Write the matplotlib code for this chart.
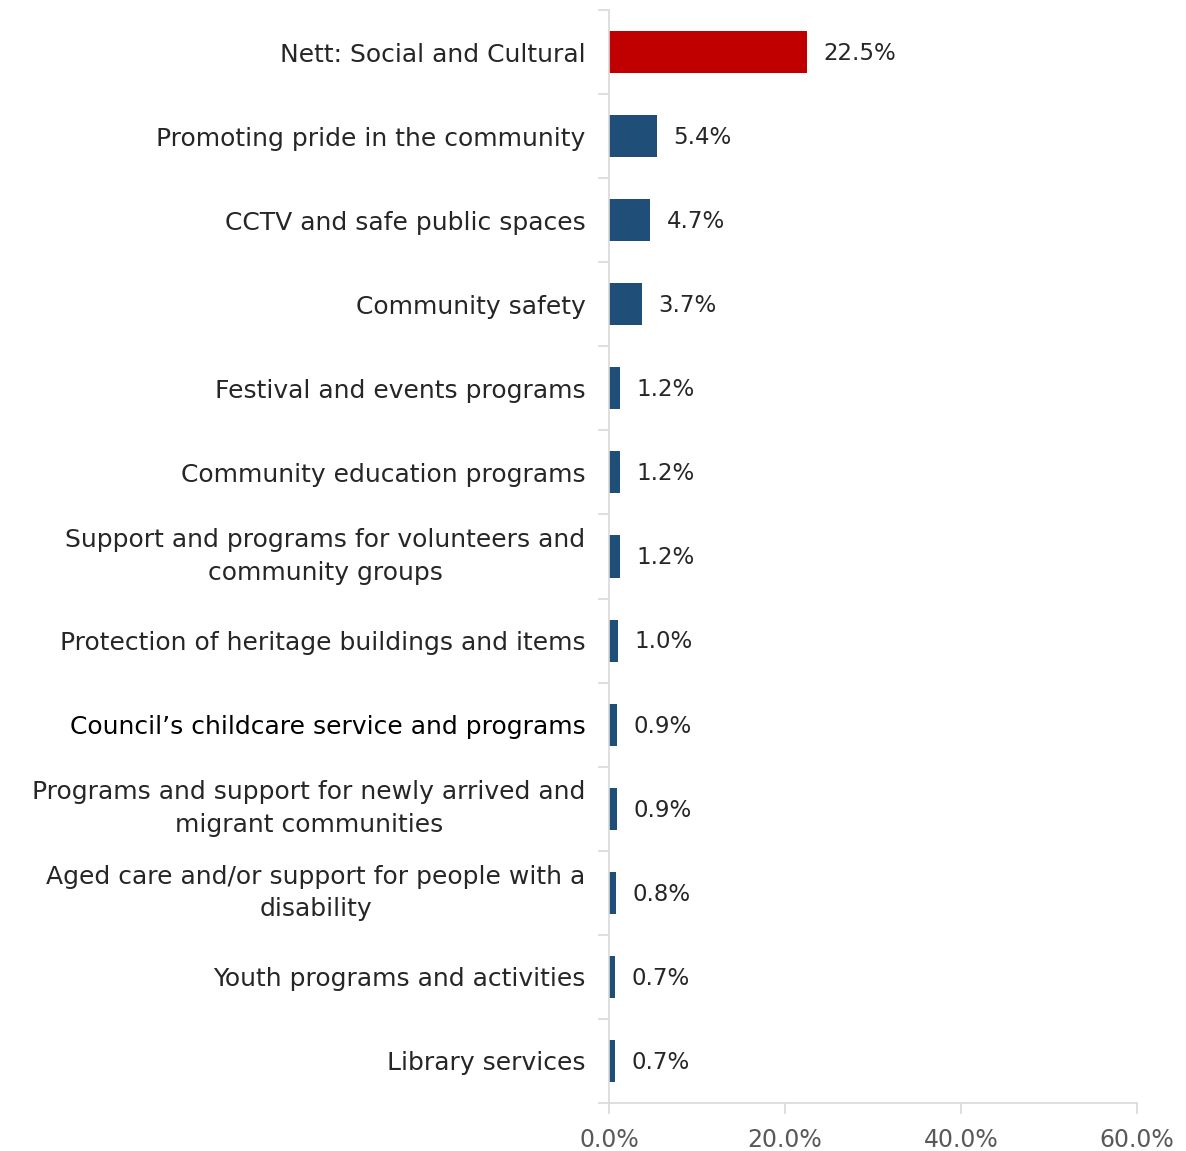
import numpy as np
import matplotlib.pyplot as plt
from matplotlib.ticker import FixedLocator, FuncFormatter

categories = [
    'Nett: Social and Cultural',
    'Promoting pride in the community',
    'CCTV and safe public spaces',
    'Community safety',
    'Festival and events programs',
    'Community education programs',
    'Support and programs for volunteers and\ncommunity groups',
    'Protection of heritage buildings and items',
    'Council\u2019s childcare service and programs',
    'Programs and support for newly arrived and\nmigrant communities',
    'Aged care and/or support for people with a\ndisability',
    'Youth programs and activities',
    'Library services',
]
values = [22.5, 5.4, 4.7, 3.7, 1.2, 1.2, 1.2, 1.0, 0.9, 0.9, 0.8, 0.7, 0.7]
x_ticks = [0, 20, 40, 60]

plt.rcParams['font.family'] = ['DejaVu Sans']

fig = plt.figure(figsize=(11.86, 11.51), dpi=100)
ax = fig.add_axes([0.5135, 0.0417, 0.4452, 0.9496])

y = np.arange(len(categories))
colors = ['#C00000'] + ['#1F4E79'] * (len(categories) - 1)
ax.barh(y, values, height=0.5, color=colors, edgecolor='none')

for yi, v in zip(y, values):
    ax.annotate(f'{v:.1f}%', (v, yi), xytext=(12, -1), textcoords='offset points',
                va='center', ha='left', fontsize=16.5, color='#262626')

ax.set_ylim(len(categories) - 0.5, -0.5)
ax.set_xlim(0, 60)

# category labels in the middle, tick marks on the boundaries
ax.set_yticks(y)
ax.set_yticklabels(categories, fontsize=18, color='#262626', linespacing=1.45)
for lbl in ax.get_yticklabels():
    lbl.set_multialignment('center')
    if '\n' in lbl.get_text():
        lbl.set_verticalalignment('center')
ax.get_yticklabels()[8].set_color('black')
ax.tick_params(axis='y', which='major', length=0, pad=17)
ax.yaxis.set_minor_locator(FixedLocator(np.arange(-0.5, len(categories), 1.0)))
ax.tick_params(axis='y', which='minor', length=8, color='#D9D9D9', width=1.2)

ax.set_xticks(x_ticks)
ax.xaxis.set_major_formatter(FuncFormatter(lambda v, p: f'{v:.1f}%'))
ax.tick_params(axis='x', length=8, color='#D9D9D9', width=1.2, labelsize=17,
               labelcolor='#595959', pad=10)

for side in ['top', 'right']:
    ax.spines[side].set_visible(False)
for side in ['left', 'bottom']:
    ax.spines[side].set_color('#D9D9D9')
    ax.spines[side].set_linewidth(1.2)

fig.savefig('out.png', dpi=100)
